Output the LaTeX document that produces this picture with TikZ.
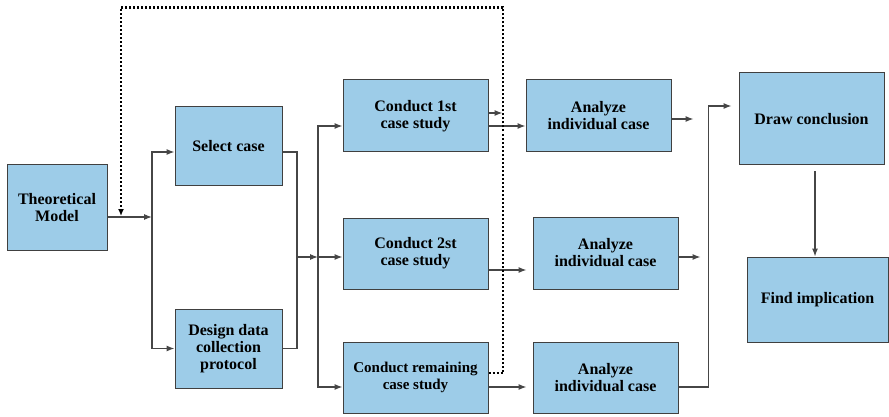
\documentclass[tikz,border=0pt]{standalone}
\usepackage{fontspec}
\setmainfont{Liberation Serif}
\usetikzlibrary{arrows.meta}
\definecolor{boxfill}{RGB}{157,204,232}
\definecolor{boxline}{RGB}{64,64,64}
\definecolor{connline}{RGB}{70,70,70}
\begin{document}
\begin{tikzpicture}[x=1pt,y=-1pt,
  box/.style={draw=boxline, line width=1pt, fill=boxfill, rectangle, inner sep=0pt,
    align=center, font=\fontsize{16pt}{17pt}\selectfont\bfseries},
  conn/.style={draw=connline, line width=1.1pt},
  arr/.style={conn, -{Latex[length=8pt,width=6pt]}},
  dots/.style={draw=black, line width=2.2pt, dash pattern=on 2pt off 2pt}
]
\useasboundingbox (0,0) rectangle (889,417);

% boxes
\node[box, minimum width=100pt, minimum height=85pt] (tm) at (57,207.5) {Theoretical\\Model};
\node[box, minimum width=107pt, minimum height=78pt] (sel) at (228.5,146) {Select case};
\node[box, minimum width=107pt, minimum height=79pt] (des) at (228.5,348.5) {Design data\\collection\\protocol};
\node[box, minimum width=145pt, minimum height=72pt] (c1) at (415.5,116) {Conduct 1st\\case study};
\node[box, minimum width=145pt, minimum height=71pt] (c2) at (415.5,253.5) {Conduct 2st\\case study};
\node[box, minimum width=145pt, minimum height=71pt, font=\fontsize{15pt}{17pt}\selectfont\bfseries] (c3) at (415.5,377.5) {Conduct remaining\\case study};
\node[box, minimum width=145pt, minimum height=72pt] (a1) at (598.5,116) {Analyze\\individual case};
\node[box, minimum width=145pt, minimum height=72pt] (a2) at (605.5,253) {Analyze\\individual case};
\node[box, minimum width=145pt, minimum height=71pt] (a3) at (605.5,377.5) {Analyze\\individual case};
\node[box, minimum width=145pt, minimum height=92pt] (dc) at (811.5,119) {Draw conclusion};
\node[box, minimum width=141pt, minimum height=85pt] (fi) at (817.5,299.5) {Find implication};

% junction coordinates
\coordinate (split1) at (152,217);
\coordinate (merge) at (297,257);
\coordinate (split2) at (318,257);
\coordinate (dotcorner) at (503,7.5);
\coordinate (dotleft) at (121,7.5);

% left part
\draw[arr] ([yshift=-9.5pt]tm.east) -- (split1);
\draw[arr] (split1) |- ([yshift=-6pt]sel.west);
\draw[arr] (split1) |- (des.west);
\draw[conn] ([yshift=-6pt]sel.east) -| (merge);
\draw[conn] (des.east) -| (merge);
\draw[arr] (merge) -- (split2);
\draw[arr] (split2) |- ([yshift=-10pt]c1.west);
\draw[arr] (split2) -- (c2.west |- split2);
\draw[arr] (split2) |- ([yshift=-9.5pt]c3.west);

% conduct -> analyze
\draw[arr] ([yshift=-10pt]c1.east) -- ([yshift=-10pt]a1.west);
\draw[arr] ([yshift=3pt]c1.east) -- ++(14,0);
\draw[arr] ([yshift=-16.5pt]c2.east) -- ++(38,0);
\draw[arr] ([yshift=-9.5pt]c3.east) -- ++(38,0);

% analyze outputs
\draw[arr] ([yshift=-3pt]a1.east) -- ++(22,0);
\draw[arr] ([yshift=-4pt]a2.east) -- ++(22,0);
\draw[arr] ([yshift=-9.5pt]a3.east) -- ++(30,0) |- ([xshift=-7pt,yshift=13pt]dc.west);

% conclusion -> implication
\draw[arr] ([xshift=3.5pt,yshift=-6pt]dc.south) -- ([xshift=-2.5pt]fi.north);

% dotted feedback
\draw[dots, -{Latex[length=7pt,width=6pt]}] ([yshift=4.5pt]c3.east) -| (dotcorner) -- (dotleft) -- ([yshift=1pt]dotleft |- split1);
\end{tikzpicture}
\end{document}
